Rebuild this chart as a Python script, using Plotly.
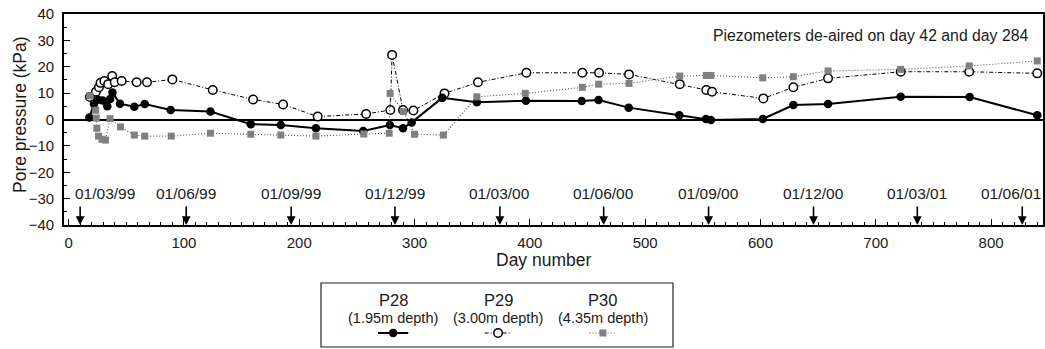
import plotly.graph_objects as go

# ---------------- data ----------------
p28_day = [18, 22, 25.5, 29.5, 33.5, 36, 38, 44.5, 57, 66, 88.5, 123, 158, 184, 214.5,
           255.5, 278.6, 290, 297.5, 324, 354, 396.6, 445, 459.6, 485.7, 529.6, 552.7,
           557, 602, 628.5, 658.6, 721.6, 781.4, 840]
p28_val = [0.8, 5.9, 7.5, 7.2, 5.0, 7.8, 10.2, 6.0, 4.8, 5.9, 3.6, 3.0, -1.8, -2.1, -3.3,
           -4.4, -2.1, -3.3, -1.1, 8.2, 6.5, 7.1, 7.0, 7.4, 4.5, 1.6, 0.2,
           -0.2, 0.2, 5.5, 5.9, 8.6, 8.5, 1.6]

p29_day = [18.5, 23.7, 26.3, 27.7, 31, 34.3, 37.8, 40, 46, 59, 68, 90, 125, 160, 186, 216,
           258, 279, 280.5, 290, 299, 326, 355, 397, 445.5, 460, 486, 530, 553, 558,
           602.5, 628.5, 658.6, 721.6, 781, 840]
p29_val = [8.5, 10.5, 12.2, 13.9, 14.6, 13.4, 16.5, 14.1, 14.6, 14.1, 14.1, 15.2, 11.2, 7.6,
           5.7, 1.1, 2.1, 3.6, 24.5, 3.6, 3.4, 9.9, 14.1, 17.7, 17.7, 17.7, 17.1, 13.4, 11.2,
           10.5, 8.0, 12.2, 15.6, 18.1, 18.1, 17.5]

p30_day = [18.5, 23.5, 24, 24.5, 26, 29, 32, 36, 45, 57, 66, 89, 123, 158, 184, 214.5, 256,
           278, 278.8, 290.5, 300, 325, 354, 396, 445.5, 459.7, 486, 530, 553, 557, 602,
           628.5, 658.6, 721.6, 781, 840]
p30_val = [9.0, 3.5, 0.5, -3.3, -6.3, -7.5, -7.8, 0.3, -2.8, -5.9, -6.3, -6.3, -5.2, -5.6,
           -5.9, -6.3, -5.5, -5.2, 9.9, 3.0, -5.6, -5.9, 8.6, 9.9, 12.2, 13.4, 13.7, 16.5,
           16.7, 16.7, 15.8, 16.2, 18.4, 19.0, 20.3, 22.2]

date_days = [10, 102, 193, 283, 374, 464, 555, 646, 736, 827]
date_labels = ["01/03/99", "01/06/99", "01/09/99", "01/12/99", "01/03/00",
               "01/06/00", "01/09/00", "01/12/00", "01/03/01", "01/06/01"]

series_names = ["P28", "P29", "P30"]
series_depths = ["(1.95m depth)", "(3.00m depth)", "(4.35m depth)"]

# ---------------- styles ----------------
W, H = 1045, 349
FONT = "Liberation Sans, Arial, Helvetica, sans-serif"
TXT = "#1a1a1a"
GRAY = "#808080"

styles = {
    "P28": dict(line=dict(color="black", width=2),
                marker=dict(symbol="circle", size=8.5, color="black")),
    "P29": dict(line=dict(color="black", width=1, dash="4px,2px,1px,2px"),
                marker=dict(symbol="circle", size=8.5, color="white",
                            line=dict(color="black", width=1.5))),
    "P30": dict(line=dict(color="#555555", width=1.1, dash="1px,2px"),
                marker=dict(symbol="square", size=7, color=GRAY)),
}

fig = go.Figure()

data = {"P28": (p28_day, p28_val), "P29": (p29_day, p29_val), "P30": (p30_day, p30_val)}
for name in ["P29", "P28", "P30"]:
    xs, ys = data[name]
    fig.add_trace(go.Scatter(x=xs, y=ys, mode="lines+markers", name=name,
                             showlegend=False, cliponaxis=False, **styles[name]))

# plot area in pixels
L, R, T, B = 64, 1043, 14, 225
xdom = [L / W, R / W]
ydom = [(H - B) / H, (H - T) / H]

axis_common = dict(showgrid=False, showline=True, linecolor="black", linewidth=1.8,
                   mirror=True, ticks="inside", tickcolor="black", tickwidth=1.2,
                   tickfont=dict(family=FONT, size=15, color=TXT))

fig.update_layout(
    width=W, height=H, margin=dict(l=0, r=0, t=0, b=0),
    paper_bgcolor="white", plot_bgcolor="white",
    font=dict(family=FONT, color=TXT),
    xaxis=dict(domain=xdom, range=[-4, 845], dtick=100, tick0=0, ticklen=6,
               minor=dict(dtick=10, ticklen=3, ticks="inside", tickcolor="black"),
               ticklabelstandoff=3, automargin=False, zeroline=False, **axis_common),
    yaxis=dict(domain=ydom, range=[-40, 40], dtick=10, ticklen=6,
               minor=dict(dtick=5, ticklen=3, ticks="inside", tickcolor="black"),
               ticklabelstandoff=5, automargin=False,
               zeroline=True, zerolinecolor="black", zerolinewidth=2, **axis_common),
    xaxis2=dict(domain=[321 / W, 673 / W], range=[0, 1], visible=False, anchor="y2"),
    yaxis2=dict(domain=[(H - 347) / H, (H - 283) / H], range=[0, 1], visible=False,
                anchor="x2"),
    showlegend=False,
)

annotations = []
# date arrows and labels
label_shift = {0: 25, len(date_days) - 1: -11}
for i, (d, lab) in enumerate(zip(date_days, date_labels)):
    annotations.append(dict(x=d, y=-40, xref="x", yref="y", text="", showarrow=True,
                            ax=0, ay=-20, arrowhead=2, arrowsize=1.1, arrowwidth=1.6,
                            arrowcolor="black", standoff=0))
    annotations.append(dict(x=d, y=-40, xref="x", yref="y", text=lab, showarrow=False,
                            yshift=32, xshift=label_shift.get(i, 0),
                            xanchor="center", yanchor="middle",
                            font=dict(family=FONT, size=15.5, color=TXT)))

annotations.append(dict(x=1030 / W, y=(H - 35) / H, xref="paper", yref="paper",
                        text="Piezometers de-aired on day 42 and day 284", showarrow=False,
                        xanchor="right", yanchor="middle",
                        font=dict(family=FONT, size=15.8, color=TXT)))
annotations.append(dict(x=543 / W, y=(H - 260) / H, xref="paper", yref="paper",
                        text="Day number", showarrow=False, xanchor="center",
                        yanchor="middle", font=dict(family=FONT, size=17.5, color=TXT)))
annotations.append(dict(x=20 / W, y=(H - 115) / H, xref="paper", yref="paper",
                        text="Pore pressure (kPa)", showarrow=False, textangle=-90,
                        xanchor="center", yanchor="middle",
                        font=dict(family=FONT, size=17.5, color=TXT)))

# custom legend
leg_x = [0.205, 0.503, 0.801]
for name, depth, cx in zip(series_names, series_depths, leg_x):
    annotations.append(dict(x=cx, y=0.734, xref="x2", yref="y2", text=name,
                            showarrow=False, xanchor="center", yanchor="middle",
                            font=dict(family=FONT, size=16.5, color=TXT)))
    annotations.append(dict(x=cx, y=0.453, xref="x2", yref="y2", text=depth,
                            showarrow=False, xanchor="center", yanchor="middle",
                            font=dict(family=FONT, size=14.5, color=TXT)))
    half = 0.043 if name == "P28" else 0.038
    st = styles[name]
    fig.add_trace(go.Scatter(x=[cx - half, cx + half], y=[0.219, 0.219],
                             xaxis="x2", yaxis="y2", mode="lines", line=st["line"],
                             showlegend=False, hoverinfo="skip", cliponaxis=False))
    fig.add_trace(go.Scatter(x=[cx], y=[0.219], xaxis="x2", yaxis="y2", mode="markers",
                             marker=st["marker"], showlegend=False, hoverinfo="skip",
                             cliponaxis=False))

fig.update_layout(annotations=annotations)
fig.add_shape(type="rect", xref="x2 domain", yref="y2 domain", x0=0, x1=1, y0=0, y1=1,
              line=dict(color="#222222", width=1.2), fillcolor="rgba(0,0,0,0)")

fig.write_html("out.html")
